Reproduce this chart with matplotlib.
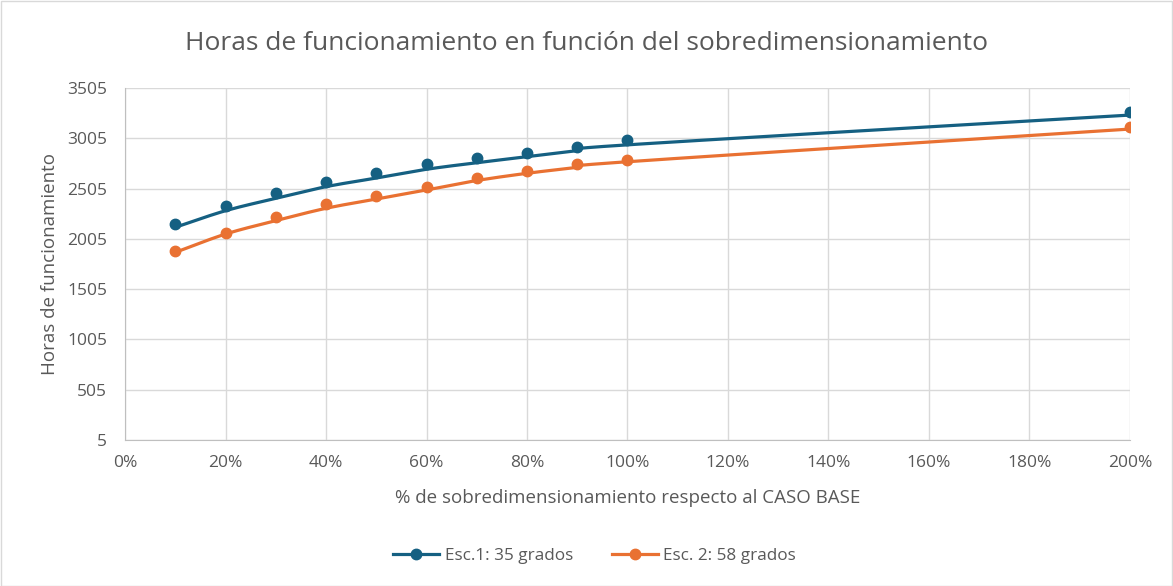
import numpy as np
import matplotlib
matplotlib.use("Agg")
import matplotlib.pyplot as plt
from matplotlib.lines import Line2D
from matplotlib.patches import Rectangle
from matplotlib.ticker import FuncFormatter

plt.rcParams['font.family'] = ['Open Sans', 'DejaVu Sans']

# Data
x_pct = [0.1, 0.2, 0.3, 0.4, 0.5, 0.6, 0.7, 0.8, 0.9, 1.0, 2.0]
esc1_points = [2150, 2332, 2458, 2570, 2657, 2746, 2812, 2862, 2921, 2988, 3269]
esc2_points = [1881, 2060, 2219, 2348, 2434, 2524, 2613, 2680, 2746, 2789, 3120]
esc1_line = [2120, 2285, 2408, 2524, 2610, 2697, 2762, 2822, 2881, 2940, 3236]
esc2_line = [1871, 2053, 2186, 2309, 2401, 2491, 2585, 2657, 2716, 2772, 3097]
series_names = ["Esc.1: 35 grados", "Esc. 2: 58 grados"]
y_ticks = [5, 505, 1005, 1505, 2005, 2505, 3005, 3505]
x_ticks = [0, 0.2, 0.4, 0.6, 0.8, 1.0, 1.2, 1.4, 1.6, 1.8, 2.0]

BLUE = "#156082"
ORANGE = "#E97132"
GRAY_TXT = "#595959"
GRID = "#d9d9d9"


def smooth(xs, ys, n=30):
    xs = np.asarray(xs, float)
    ys = np.asarray(ys, float)
    px = np.concatenate([[2 * xs[0] - xs[1]], xs, [2 * xs[-1] - xs[-2]]])
    py = np.concatenate([[2 * ys[0] - ys[1]], ys, [2 * ys[-1] - ys[-2]]])
    ox, oy = [], []
    for i in range(1, len(px) - 2):
        p0, p1, p2, p3 = (np.array([px[j], py[j]]) for j in (i - 1, i, i + 1, i + 2))
        c1 = p1 + (p2 - p0) / 6
        c2 = p2 - (p3 - p1) / 6
        t = np.linspace(0, 1, n)[:, None]
        b = ((1 - t) ** 3) * p1 + 3 * ((1 - t) ** 2) * t * c1 + 3 * (1 - t) * t ** 2 * c2 + t ** 3 * p2
        ox.extend(b[:, 0]); oy.extend(b[:, 1])
    return np.array(ox), np.array(oy)


fig = plt.figure(figsize=(11.73, 5.86), dpi=100)
fig.patches.append(Rectangle((0.5 / 1173, 0.5 / 586), 1 - 1.5 / 1173, 1 - 1.5 / 586,
                             transform=fig.transFigure, fill=False, edgecolor="#d9d9d9", lw=1))
ax = fig.add_axes([0.1066, 0.2491, 0.8567, 0.6007])

for ln, pts, col in ((esc1_line, esc1_points, BLUE), (esc2_line, esc2_points, ORANGE)):
    sx, sy = smooth(x_pct, ln)
    ax.plot(sx, sy, color=col, lw=2.3, solid_capstyle='round', zorder=3)
    ax.plot(x_pct, pts, 'o', color=col, markersize=7.5, zorder=4)

ax.set_xlim(0, 2.0)
ax.set_ylim(5, 3505)
ax.set_xticks(x_ticks)
ax.set_yticks(y_ticks)
ax.xaxis.set_major_formatter(FuncFormatter(lambda v, p: f"{int(round(v * 100))}%"))
ax.grid(True, color=GRID, lw=1)
ax.set_axisbelow(True)
for s in ("top", "right"):
    ax.spines[s].set_visible(False)
for s in ("left", "bottom"):
    ax.spines[s].set_color("#bfbfbf")
ax.tick_params(length=0, colors=GRAY_TXT, labelsize=12.5, pad=11)
ax.tick_params(axis='y', pad=13)

ax.set_xlabel("% de sobredimensionamiento respecto al CASO BASE", color=GRAY_TXT, fontsize=13.5, labelpad=13)
ax.set_ylabel("Horas de funcionamiento", color=GRAY_TXT, fontsize=13.5, labelpad=6)
fig.text(0.5, 1 - 43 / 586, "Horas de funcionamiento en función del sobredimensionamiento",
         ha='center', va='center', fontsize=19, color=GRAY_TXT)

handles = [Line2D([0], [0], color=BLUE, lw=2.3, marker='o', markersize=7.5),
           Line2D([0], [0], color=ORANGE, lw=2.3, marker='o', markersize=7.5)]
fig.legend(handles, series_names, loc='center', bbox_to_anchor=(0.507, 1 - 556 / 586), ncol=2,
           frameon=False, fontsize=12.3, labelcolor=GRAY_TXT, handlelength=2.7, columnspacing=2.3,
           handletextpad=0.3)

fig.savefig("out.png", dpi=100)
